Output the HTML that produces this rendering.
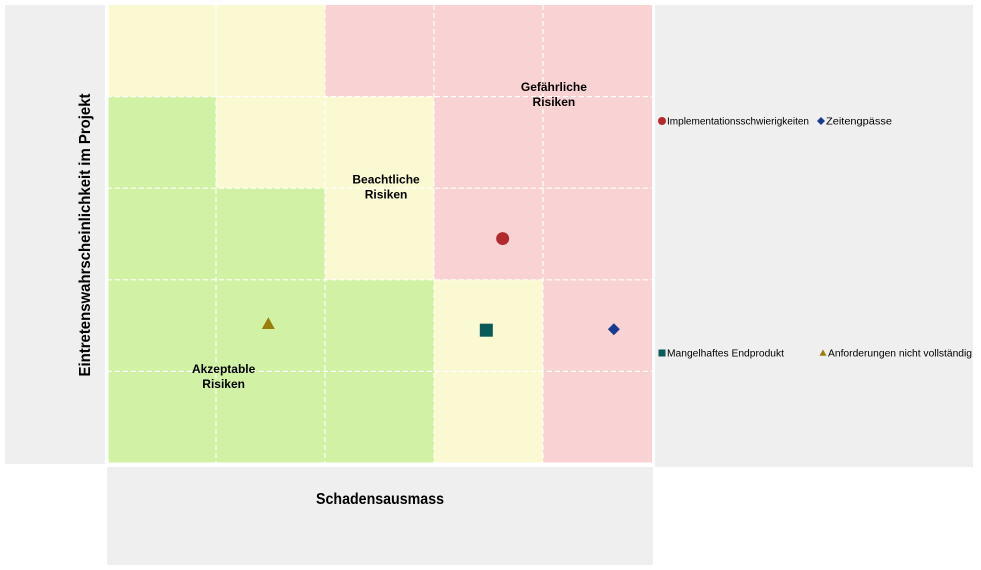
<!DOCTYPE html>
<html><head><meta charset="utf-8"><style>
body{margin:0;background:#fff;width:981px;height:570px;overflow:hidden;font-family:"Liberation Sans",Arial,sans-serif}
svg{display:block}
</style></head><body>
<svg id="chart" width="981" height="570">
<rect x="5" y="5" width="100" height="459" fill="#efefef"/>
<rect x="655" y="5" width="318" height="462" fill="#efefef"/>
<rect x="107" y="467" width="546" height="98" fill="#efefef"/>
<g id="cells"></g>
<g id="grid"></g>
<g id="zones" font-weight="bold" font-size="12" text-anchor="middle" fill="#000"></g>
<g id="marks"></g>
<text x="90" y="235" transform="rotate(-90 90 235)" text-anchor="middle" font-size="16" font-weight="bold" textLength="283" lengthAdjust="spacingAndGlyphs">Eintretenswahrscheinlichkeit  im Projekt</text>
<text x="380" y="504" text-anchor="middle" font-size="16" font-weight="bold" textLength="128" lengthAdjust="spacingAndGlyphs">Schadensausmass</text>
<g id="legend" font-size="10" fill="#000"></g>
</svg>
<script>
const seriesNames=["Implementationsschwierigkeiten","Zeitengpässe","Mangelhaftes Endprodukt","Anforderungen nicht vollständig"];
const xValues=[3.63,4.65,3.48,1.48];
const yValues=[2.45,1.46,1.45,1.52];
const seriesColors=["#b22a2e","#1a3a8f","#0b5a5a","#9a7e0a"];
const seriesShapes=["circle","diamond","square","triangle"];
const cellZones=[["y","y","r","r","r"],["g","y","y","r","r"],["g","g","y","r","r"],["g","g","g","y","r"],["g","g","g","y","r"]];
const zoneLabels=[["Gefährliche","Risiken",4.1,4.06],["Beachtliche","Risiken",2.56,3.05],["Akzeptable","Risiken",1.07,0.98]];
const X0=107,X1=652,Y0=463,Y1=5;
const sx=v=>X0+(X1-X0)*v/5, sy=v=>Y0-(Y0-Y1)*v/5;
const NS="http://www.w3.org/2000/svg";
const mk=(t,a,p)=>{const e=document.createElementNS(NS,t);for(const k in a)e.setAttribute(k,a[k]);p.appendChild(e);return e;};
const fills={y:"#fbf9d2",r:"#f9d3d3",g:"#d1f2a4"};
const cells=document.getElementById('cells');
cellZones.forEach((row,r)=>row.forEach((z,c)=>{
 const e=mk('rect',{x:sx(c),y:sy(5-r),width:sx(c+1)-sx(c),height:sy(4-r)-sy(5-r),fill:fills[z]},cells);
 
 
}));
const grid=document.getElementById('grid');
for(let i=1;i<5;i++){
 const v=mk('line',{x1:sx(i),x2:sx(i),y1:Y1,y2:Y0,stroke:"#fff","stroke-width":1.2,"stroke-dasharray":"5,3"},grid);
 
 
 const h=mk('line',{x1:X0,x2:X1,y1:sy(i),y2:sy(i),stroke:"#fff","stroke-width":1.2,"stroke-dasharray":"5,3"},grid);
 
 
}
const ax=mk('line',{x1:X0,x2:X0,y1:Y1,y2:Y0+2,stroke:"#fff","stroke-width":3},grid);


const bx=mk('line',{x1:X0,x2:X1+2,y1:Y0+1,y2:Y0+1,stroke:"#fff","stroke-width":3},grid);


const zones=document.getElementById('zones');
zoneLabels.forEach(l=>{
 const t=mk('text',{x:sx(l[2]),y:sy(l[3])},zones);
 
 
 const a=mk('tspan',{x:sx(l[2]),dy:0},t);a.textContent=l[0];
 const b=mk('tspan',{x:sx(l[2]),dy:15},t);b.textContent=l[1];
});
function shape(s,cx,cy,sz,col,p){
 if(s==="circle")return mk('circle',{cx,cy,r:sz,fill:col},p);
 if(s==="square")return mk('rect',{x:cx-sz,y:cy-sz,width:2*sz,height:2*sz,fill:col},p);
 if(s==="diamond")return mk('polygon',{points:`${cx},${cy-sz} ${cx+sz},${cy} ${cx},${cy+sz} ${cx-sz},${cy}`,fill:col},p);
 return mk('polygon',{points:`${cx},${cy-sz} ${cx+sz},${cy+sz*0.8} ${cx-sz},${cy+sz*0.8}`,fill:col},p);
}
const marks=document.getElementById('marks');
const msize=[6.5,6,6.5,6.5];
xValues.forEach((xv,i)=>{
 const e=shape(seriesShapes[i],sx(xv),sy(yValues[i]),msize[i],seriesColors[i],marks);
 
 
});
const legend=document.getElementById('legend');
const legPos=[[661,121,142],[820,121,66],[661,353,117],[822,353,144]];
seriesNames.forEach((n,i)=>{
 const [x,y,w]=legPos[i];
 const g=mk('g',{},legend);
 
 
 shape(seriesShapes[i],x+1,y,i===1?4:i===0?4:3.5,seriesColors[i],g);
 const t=mk('text',{x:x+6,y:y+3.5,textLength:w,lengthAdjust:"spacingAndGlyphs"},g);
 t.textContent=n;
});
</script>
</body></html>
